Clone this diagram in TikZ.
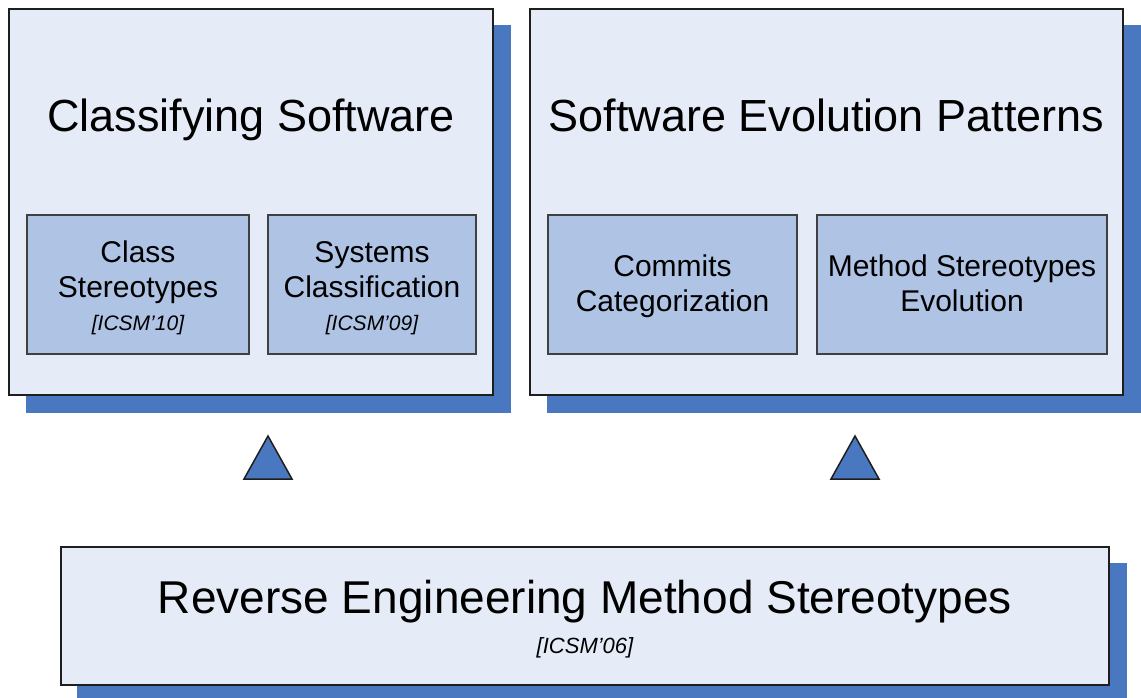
\documentclass[tikz,border=0pt]{standalone}
\usepackage{fontspec}
\setmainfont{Liberation Sans}
\definecolor{pale}{HTML}{E6ECF7}
\definecolor{innerfill}{HTML}{AFC3E4}
\definecolor{shade}{HTML}{4A78C0}
\definecolor{edge}{HTML}{1E1E1E}
\begin{document}
\begin{tikzpicture}[x=1pt,y=-1pt,
  outerbox/.style={draw=edge, line width=2pt, fill=pale, rectangle, inner sep=0pt},
  innerbox/.style={draw=edge!85, line width=2pt, fill=innerfill, rectangle, inner sep=0pt, minimum height=139pt},
  shadowfill/.style={fill=shade},
  big/.style={font=\fontsize{45}{54}\selectfont, anchor=base, inner sep=0pt},
  mid/.style={font=\fontsize{30}{35}\selectfont, anchor=base, inner sep=0pt},
  ref/.style={font=\fontsize{21}{25}\selectfont\itshape, anchor=base, inner sep=0pt},
  tri/.style={fill=shade, draw=edge, line width=1.5pt, line join=miter}]
\useasboundingbox (0,0) rectangle (1141,698);
% shadows
\fill[shadowfill] (26,25) rectangle (511,413);
\fill[shadowfill] (547,25) rectangle (1145,413);
\fill[shadowfill] (77,563) rectangle (1127,702);
% outer boxes
\node[outerbox, minimum width=484pt, minimum height=386pt] (cs) at (251,202) {};
\node[outerbox, minimum width=593pt, minimum height=386pt] (sep) at (826.5,202) {};
\node[outerbox, minimum width=1048pt, minimum height=138pt] (rem) at (585,616) {};
% inner boxes
\node[innerbox, minimum width=222pt] (cst) at (138,284.5) {};
\node[innerbox, minimum width=208pt] (scl) at (372,284.5) {};
\node[innerbox, minimum width=249pt] (cca) at (672.5,284.5) {};
\node[innerbox, minimum width=290pt] (mse) at (962,284.5) {};
% titles
\node[big] (t1) at (251,132) {Classifying Software};
\node[big] (t2) at (826.5,132) {Software Evolution Patterns};
\node[big, font=\fontsize{46}{54}\selectfont] (t3) at (585,613) {Reverse Engineering Method Stereotypes};
\node[ref, font=\fontsize{22}{26}\selectfont\itshape] (r3) at (585,653) {[ICSM’06]};
% inner texts
\node[mid] (a1) at (138,262) {Class};
\node[mid] (a2) at (138,297) {Stereotypes};
\node[ref] (a3) at (138,330) {[ICSM’10]};
\node[mid] (b1) at (372,262) {Systems};
\node[mid] (b2) at (372,297) {Classification};
\node[ref] (b3) at (372,330) {[ICSM’09]};
\node[mid] (c1) at (672.5,276) {Commits};
\node[mid] (c2) at (672.5,311) {Categorization};
\node[mid] (d1) at (962,276) {Method Stereotypes};
\node[mid] (d2) at (962,311) {Evolution};
% triangles
\filldraw[tri] (244,479) -- (268,436) -- (292,479) -- cycle;
\filldraw[tri] (831,479) -- (855,436) -- (879,479) -- cycle;
\end{tikzpicture}
\end{document}
